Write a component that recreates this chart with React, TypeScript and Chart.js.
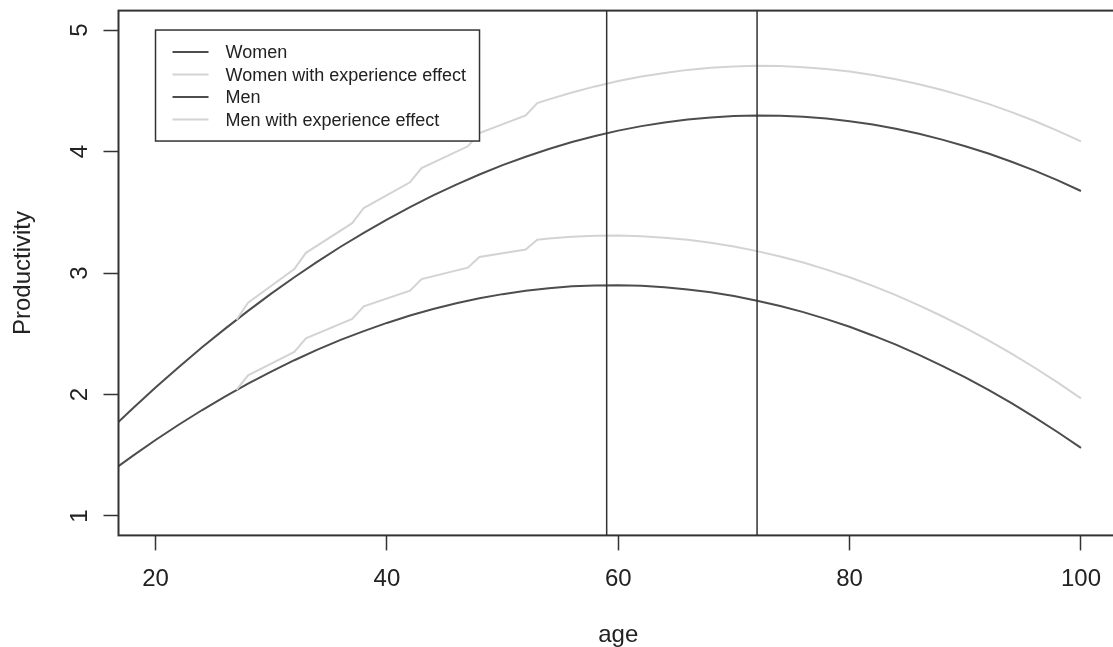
import { useEffect, useRef } from "react";
import { Chart, registerables } from "chart.js";

Chart.register(...registerables);

// ---------- data ----------
const xTickValues = [20, 40, 60, 80, 100];
const yTickValues = [1, 2, 3, 4, 5];
const xTitle = "age";
const yTitle = "Productivity";

const seriesLabels = [
  "Women",
  "Women with experience effect",
  "Men",
  "Men with experience effect",
];

const baseAges = [
  16, 18, 20, 22, 24, 26, 28, 30, 32, 34, 36, 38, 40, 42, 44, 46, 48, 50, 52, 54, 56, 58,
  60, 62, 64, 66, 68, 70, 72, 74, 76, 78, 80, 82, 84, 86, 88, 90, 92, 94, 96, 98, 100,
];
const womenValues = [
  1.701, 1.882, 2.057, 2.224, 2.386, 2.54, 2.688, 2.83, 2.965, 3.094, 3.216, 3.331, 3.44,
  3.543, 3.639, 3.728, 3.811, 3.888, 3.957, 4.021, 4.078, 4.128, 4.172, 4.209, 4.239, 4.264,
  4.281, 4.292, 4.297, 4.295, 4.286, 4.271, 4.25, 4.222, 4.187, 4.146, 4.098, 4.044, 3.984,
  3.916, 3.843, 3.762, 3.675,
];
const menValues = [
  1.354, 1.493, 1.625, 1.751, 1.87, 1.983, 2.089, 2.189, 2.282, 2.369, 2.449, 2.522, 2.589,
  2.65, 2.704, 2.751, 2.792, 2.826, 2.854, 2.875, 2.89, 2.898, 2.9, 2.895, 2.883, 2.865,
  2.841, 2.81, 2.772, 2.728, 2.678, 2.62, 2.557, 2.486, 2.41, 2.326, 2.236, 2.14, 2.037,
  1.928, 1.812, 1.689, 1.56,
];

const expAges = [
  27, 28, 32, 33, 37, 38, 42, 43, 47, 48, 52, 53, 54, 56, 58, 60, 62, 64, 66, 68, 70, 72,
  74, 76, 78, 80, 82, 84, 86, 88, 90, 92, 94, 96, 98, 100,
];
const womenExpValues = [
  2.615, 2.756, 3.033, 3.166, 3.41, 3.535, 3.747, 3.864, 4.043, 4.151, 4.297, 4.398, 4.429,
  4.486, 4.536, 4.58, 4.617, 4.647, 4.672, 4.689, 4.7, 4.705, 4.703, 4.694, 4.679, 4.658,
  4.63, 4.595, 4.554, 4.506, 4.452, 4.392, 4.324, 4.251, 4.17, 4.083,
];
const menExpValues = [
  2.037, 2.157, 2.35, 2.462, 2.622, 2.726, 2.854, 2.95, 3.044, 3.132, 3.194, 3.273, 3.283,
  3.298, 3.306, 3.308, 3.303, 3.291, 3.273, 3.249, 3.218, 3.18, 3.136, 3.086, 3.028, 2.965,
  2.894, 2.818, 2.734, 2.644, 2.548, 2.445, 2.336, 2.22, 2.097, 1.968,
];

const verticalLineAges = [59, 72];
const legendAnchor = { x: 20, y: 5 };

// ---------- styling ----------
const X_MIN = 16.8;
const X_MAX = 103.2;
const Y_MIN = 0.84;
const Y_MAX = 5.16;
const DARK = "#4d4d4d";
const LIGHT = "#d3d3d3";
const AXIS = "#333333";
const TEXT = "#222222";
const FONT = "'Liberation Sans', Arial, Helvetica, sans-serif";
const CANVAS_W = 1130;
const CANVAS_H = 647;

const toPoints = (xs: number[], ys: number[]) => xs.map((x, i) => ({ x, y: ys[i] }));

const rOverlay = {
  id: "rOverlay",
  afterDatasetsDraw(chart: any) {
    const { ctx, chartArea: a, scales } = chart;
    const xs = scales.x;
    const ys = scales.y;
    ctx.save();

    // plot box
    ctx.strokeStyle = AXIS;
    ctx.lineWidth = 2;
    ctx.strokeRect(a.left, a.top, a.right - a.left, a.bottom - a.top);

    // tick labels
    ctx.fillStyle = TEXT;
    ctx.font = `24px ${FONT}`;
    ctx.textAlign = "center";
    ctx.textBaseline = "alphabetic";
    xTickValues.forEach((v) => {
      ctx.fillText(String(v), xs.getPixelForValue(v), a.bottom + 50.6);
    });
    yTickValues.forEach((v) => {
      ctx.save();
      ctx.translate(a.left - 32, ys.getPixelForValue(v));
      ctx.rotate(-Math.PI / 2);
      ctx.fillText(String(v), 0, 0);
      ctx.restore();
    });

    // axis titles
    ctx.fillText(xTitle, (a.left + a.right) / 2, a.bottom + 106.6);
    ctx.save();
    ctx.translate(a.left - 89, (a.top + a.bottom) / 2);
    ctx.rotate(-Math.PI / 2);
    ctx.fillText(yTitle, 0, 0);
    ctx.restore();

    // legend
    const lx = xs.getPixelForValue(legendAnchor.x);
    const ly = ys.getPixelForValue(legendAnchor.y);
    const lw = 324;
    const lh = 111;
    ctx.fillStyle = "#ffffff";
    ctx.fillRect(lx, ly, lw, lh);
    ctx.strokeStyle = AXIS;
    ctx.lineWidth = 1.5;
    ctx.strokeRect(lx, ly, lw, lh);
    const series = chart.data.datasets.filter((d: any) => !d.isRefLine);
    ctx.font = `18px ${FONT}`;
    ctx.textAlign = "left";
    ctx.textBaseline = "middle";
    series.forEach((d: any, i: number) => {
      const ry = ly + 22 + i * 22.5;
      ctx.strokeStyle = d.borderColor;
      ctx.lineWidth = 2;
      ctx.beginPath();
      ctx.moveTo(lx + 17, ry);
      ctx.lineTo(lx + 53, ry);
      ctx.stroke();
      ctx.fillStyle = TEXT;
      ctx.fillText(d.label, lx + 70, ry + 1);
    });

    ctx.restore();
  },
};

export default function App() {
  const ref = useRef<HTMLCanvasElement>(null);

  useEffect(() => {
    if (!ref.current) return;
    const lineStyle = { pointRadius: 0, borderWidth: 2, tension: 0, fill: false };
    const datasets: any[] = [
      { label: seriesLabels[0], data: toPoints(baseAges, womenValues), borderColor: DARK, ...lineStyle },
      { label: seriesLabels[1], data: toPoints(expAges, womenExpValues), borderColor: LIGHT, ...lineStyle },
      { label: seriesLabels[2], data: toPoints(baseAges, menValues), borderColor: DARK, ...lineStyle },
      { label: seriesLabels[3], data: toPoints(expAges, menExpValues), borderColor: LIGHT, ...lineStyle },
      ...verticalLineAges.map((age) => ({
        label: `age ${age}`,
        isRefLine: true,
        data: [
          { x: age, y: Y_MIN },
          { x: age, y: Y_MAX },
        ],
        borderColor: AXIS,
        borderWidth: 1.5,
        pointRadius: 0,
      })),
    ];
    // draw light curves after dark ones
    const ordered = [datasets[0], datasets[2], datasets[1], datasets[3], ...datasets.slice(4)];
    ordered.forEach((d, i) => (d.order = -i));

    const chart = new Chart(ref.current, {
      type: "line",
      data: { datasets },
      options: {
        responsive: false,
        maintainAspectRatio: false,
        animation: false,
        devicePixelRatio: 1,
        layout: { padding: { top: 10.6, right: CANVAS_W - 1118, bottom: 0, left: 0 } },
        plugins: { legend: { display: false }, tooltip: { enabled: false } },
        scales: {
          x: {
            type: "linear",
            min: X_MIN,
            max: X_MAX,
            afterBuildTicks: (s: any) => {
              s.ticks = xTickValues.map((v) => ({ value: v }));
            },
            afterFit: (s: any) => {
              s.height = CANVAS_H - 535.4;
            },
            ticks: { display: false },
            grid: { drawOnChartArea: false, drawTicks: true, tickLength: 15, tickColor: AXIS, tickWidth: 1.5 },
            border: { display: false },
          },
          y: {
            type: "linear",
            min: Y_MIN,
            max: Y_MAX,
            afterBuildTicks: (s: any) => {
              s.ticks = yTickValues.map((v) => ({ value: v }));
            },
            afterFit: (s: any) => {
              s.width = 118.5;
            },
            ticks: { display: false },
            grid: { drawOnChartArea: false, drawTicks: true, tickLength: 15, tickColor: AXIS, tickWidth: 1.5 },
            border: { display: false },
          },
        },
      },
      plugins: [rOverlay],
    } as any);

    return () => chart.destroy();
  }, []);

  return (
    <div
      style={{
        position: "fixed",
        left: 0,
        top: 0,
        width: 1113,
        height: 647,
        overflow: "hidden",
        background: "#ffffff",
      }}
    >
      <canvas ref={ref} width={CANVAS_W} height={CANVAS_H} style={{ display: "block", width: CANVAS_W, height: CANVAS_H }} />
    </div>
  );
}
